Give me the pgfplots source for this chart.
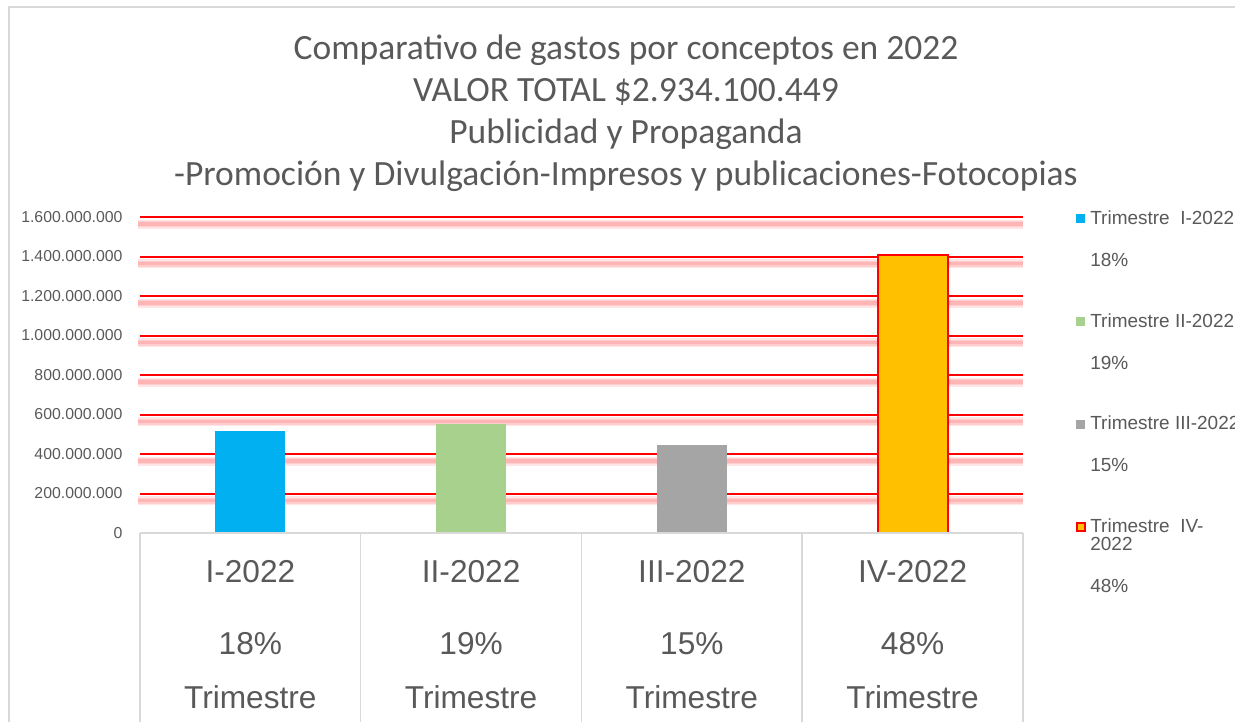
\documentclass[border=0pt]{standalone}
\usepackage{pgfplots}
\pgfplotsset{compat=1.18}
\usepackage{fontspec}
\setmainfont{Liberation Sans}
\newfontfamily\titlefont{Carlito}
\definecolor{txt}{HTML}{595959}
\definecolor{frame}{HTML}{D9D9D9}
\definecolor{qI}{HTML}{00B0F0}
\definecolor{qII}{HTML}{A9D18E}
\definecolor{qIII}{HTML}{A5A5A5}
\definecolor{qIV}{HTML}{FFC000}

\begin{document}
\begin{tikzpicture}[x=0.1mm,y=0.1mm]
\path[use as bounding box] (0,0) rectangle (1235,721);
\draw[frame, line width=0.2mm] (9,-20) -- (9,714) -- (1260,714);

% title
\node[font=\titlefont\fontsize{10.1}{11.95}\selectfont, text=txt, align=center, anchor=north]
  at (626,699) {Comparativo de gastos por conceptos en 2022\\
  VALOR TOTAL \$2.934.100.449\\
  Publicidad y Propaganda\\
  -Promoción y Divulgación-Impresos y publicaciones-Fotocopias};

\begin{axis}[
  at={(14mm,18.8mm)}, anchor=south west,
  scale only axis, clip=false,
  width=88.3mm, height=31.6mm,
  xmin=-0.5, xmax=3.5,
  ymin=0, ymax=1600000000,
  axis line style={draw=none},
  major tick length=0pt,
  xtick pos=bottom, ytick pos=left,
  xtick={0,1,2,3},
  xticklabels={{I-2022\\[10.5pt]18\%\\[5.4pt]Trimestre},
               {II-2022\\[10.5pt]19\%\\[5.4pt]Trimestre},
               {III-2022\\[10.5pt]15\%\\[5.4pt]Trimestre},
               {IV-2022\\[10.5pt]48\%\\[5.4pt]Trimestre}},
  xticklabel style={align=center, text=txt, inner sep=0pt, anchor=north, yshift=-7.6pt,
    font=\fontsize{9}{10}\selectfont},
  extra x ticks={-0.5,0.5,1.5,2.5,3.5},
  extra x tick labels={},
  extra x tick style={tick align=outside, major tick length=20mm,
    tick style={draw=frame, line width=0.15mm}},
  ytick={0,200000000,400000000,600000000,800000000,1000000000,1200000000,1400000000,1600000000},
  scaled y ticks=false,
  yticklabel={\pgfmathprintnumber[fixed,precision=0,1000 sep={.},assume math mode=true]{\tick}},
  yticklabel style={text=txt, inner sep=0pt, xshift=-4.8pt,
    font=\fontsize{4.5}{5.4}\selectfont},
  bar width=7mm,
  legend style={at={(1.0589,1.022)}, anchor=north west, draw=none, fill=none,
    inner sep=0pt, row sep=23.8pt, column sep=1.2pt,
    cells={anchor=base west},
    nodes={inner sep=0pt, text=txt, font=\fontsize{5.4}{5.8}\selectfont}},
]
% pink glow under each gridline
\pgfplotsinvokeforeach{2e8,4e8,6e8,8e8,10e8,12e8,14e8,16e8}{
  \draw[red, opacity=0.10, line width=0.9mm] ([xshift=-0.2mm,yshift=-0.7mm]axis cs:-0.5,#1) -- ([yshift=-0.7mm]axis cs:3.5,#1);
  \draw[red, opacity=0.10, line width=0.6mm] ([xshift=-0.2mm,yshift=-0.7mm]axis cs:-0.5,#1) -- ([yshift=-0.7mm]axis cs:3.5,#1);
  \draw[red, opacity=0.12, line width=0.35mm] ([xshift=-0.2mm,yshift=-0.7mm]axis cs:-0.5,#1) -- ([yshift=-0.7mm]axis cs:3.5,#1);
  \draw[red, line width=0.2mm] (axis cs:-0.5,#1) -- (axis cs:3.5,#1);
}
\addplot[ybar, bar shift=0pt, fill=qI, draw=none,
  legend image code/.code={\fill[qI] (0pt,0.3pt) rectangle (2.6pt,2.9pt);}]
  coordinates {(0,518000000)};
\addlegendentry{\parbox[t]{40mm}{Trimestre\ \ I-2022\\[6.1pt]18\%}}
\addplot[ybar, bar shift=0pt, fill=qII, draw=none,
  legend image code/.code={\fill[qII] (0pt,0.3pt) rectangle (2.6pt,2.9pt);}]
  coordinates {(1,553000000)};
\addlegendentry{\parbox[t]{40mm}{Trimestre II-2022\\[6.1pt]19\%}}
\addplot[ybar, bar shift=0pt, fill=qIII, draw=none,
  legend image code/.code={\fill[qIII] (0pt,0.3pt) rectangle (2.6pt,2.9pt);}]
  coordinates {(2,447000000)};
\addlegendentry{\parbox[t]{40mm}{Trimestre III-2022\\[6.1pt]15\%}}
\addplot[ybar, bar shift=0pt, fill=qIV, draw=red, line width=0.2mm,
  legend image code/.code={\filldraw[fill=qIV, draw=red, line width=0.2mm] (0.1pt,0.4pt) rectangle (2.5pt,2.8pt);}]
  coordinates {(3,1409000000)};
\addlegendentry{\parbox[t]{40mm}{\fontsize{5.4}{5.1}\selectfont Trimestre\ \ IV-\\2022\\[6.9pt]48\%}}
\draw[frame, line width=0.15mm] (axis cs:-0.5,0) -- (axis cs:3.5,0);
\end{axis}
\end{tikzpicture}
\end{document}
